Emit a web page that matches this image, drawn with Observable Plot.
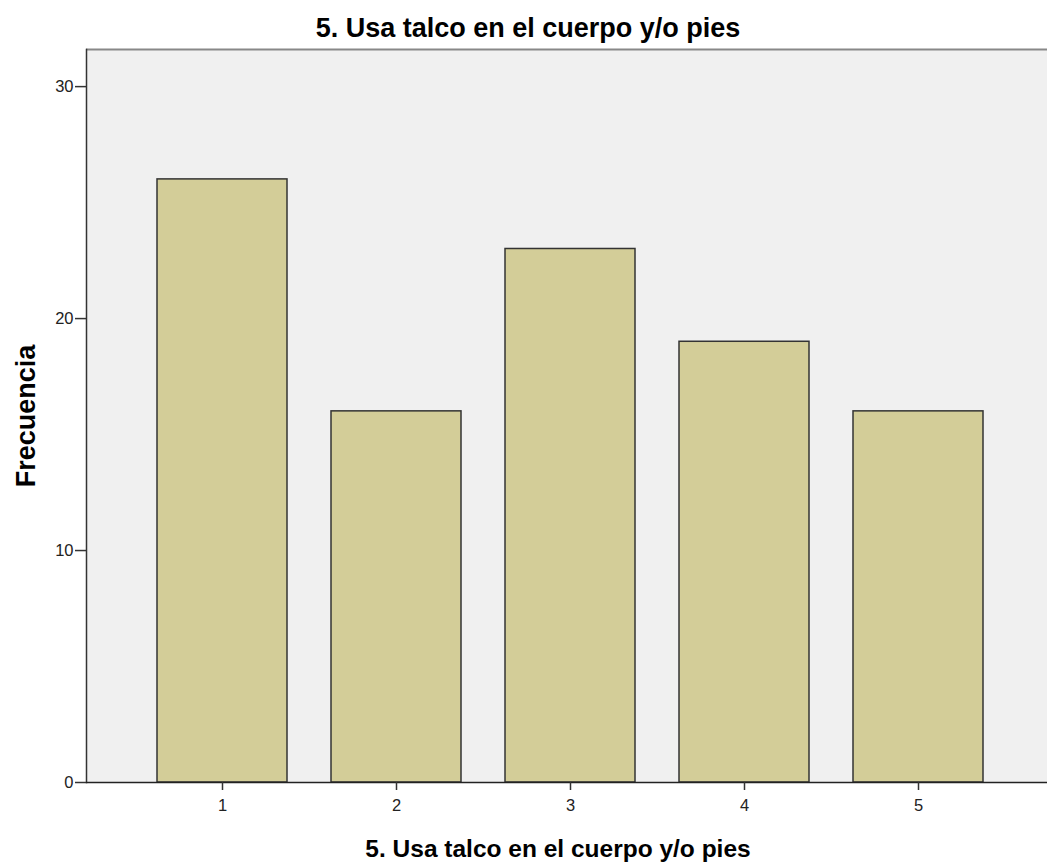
<!DOCTYPE html>
<html><head><meta charset="utf-8">
<script src="https://cdn.jsdelivr.net/npm/d3@7"></script>
<script src="https://cdn.jsdelivr.net/npm/@observablehq/plot@0.6"></script>
<style>body{margin:0;background:#fff}</style>
</head><body><div id="chart"></div>
<script>
const categories = ["1", "2", "3", "4", "5"];
const frequencies = [26, 16, 23, 19, 16];
const yTicks = [0, 10, 20, 30];
const title = "5. Usa talco en el cuerpo y/o pies";
const xLabel = "5. Usa talco en el cuerpo y/o pies";
const yLabel = "Frecuencia";
const yMax = 31.6;

const data = categories.map((c, i) => ({cat: c, freq: frequencies[i]}));

const plot = Plot.plot({
  width: 1047, height: 866,
  marginTop: 49, marginBottom: 84, marginLeft: 86, marginRight: 0,
  style: {background: "#fff", fontFamily: "Liberation Sans", fontSize: "16px", color: "#000", overflow: "hidden"},
  x: {domain: categories, range: [86, 1054], paddingInner: 0.253, paddingOuter: 0.408, label: null},
  y: {domain: [0, yMax], range: [782, 49], label: null},
  marks: [
    Plot.frame({fill: "#f0f0f0", stroke: null}),
    Plot.barY(data, {x: "cat", y: "freq", fill: "#d3cd98", stroke: "#333", strokeWidth: 1.5}),
    Plot.ruleY([yMax], {stroke: "#888", strokeWidth: 2}),
    Plot.frame({anchor: "left", stroke: "#333", strokeWidth: 1.5}),
    Plot.ruleY([0], {stroke: "#222", strokeWidth: 1.5}),
    Plot.axisY(yTicks, {tickSize: 11, tickPadding: 2, fontSize: 16.5, label: null, stroke: "#333", strokeWidth: 1.5, fill: "#222"}),
    Plot.axisX({tickSize: 8, tickPadding: 9, fontSize: 16.5, label: null, stroke: "#333", strokeWidth: 1.5, fill: "#222"}),
    Plot.text([title], {frameAnchor: "top", lineAnchor: "middle", textAnchor: "middle", dx: -39, dy: -21.5, fontFamily: "Liberation Sans", fontWeight: "bold", fontSize: 27, fill: "#000"}),
    Plot.text([xLabel], {frameAnchor: "bottom", lineAnchor: "middle", textAnchor: "middle", dx: -9, dy: 67, fontFamily: "Liberation Sans", fontWeight: "bold", fontSize: 24.5, fill: "#000"}),
    Plot.text([yLabel], {frameAnchor: "left", lineAnchor: "middle", textAnchor: "middle", dx: -60, rotate: -90, fontFamily: "Liberation Sans", fontWeight: "bold", fontSize: 27, fill: "#000"})
  ]
});
document.getElementById("chart").appendChild(plot);
</script>
</body></html>
